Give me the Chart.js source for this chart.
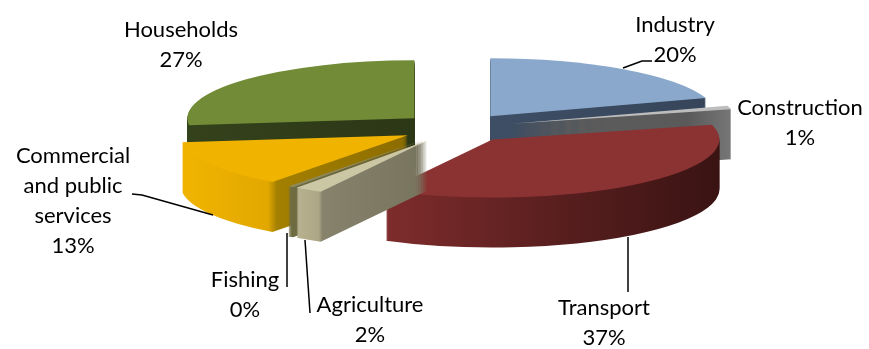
<!DOCTYPE html>
<html>
<head>
<meta charset="utf-8">
<style>
  html, body { margin: 0; padding: 0; background: #ffffff; }
  canvas { display: block; }
</style>
<script src="https://cdn.jsdelivr.net/npm/chart.js@4/dist/chart.umd.min.js"></script>
</head>
<body>
<canvas id="c" width="869" height="349"></canvas>
<script>
// ---- data ----
const categories = ['Industry', 'Construction', 'Transport', 'Agriculture', 'Fishing', 'Commercial and public services', 'Households'];
const shares = [20, 1, 37, 2, 0.4, 13, 27];
const labelLines = [['Industry'], ['Construction'], ['Transport'], ['Agriculture'], ['Fishing'], ['Commercial', 'and public', 'services'], ['Households']];

// ---- styles ----
const topColors = ['#8aa8cc', '#bdbdbd', '#8b3333', '#cbc6a3', '#8f8a5b', '#f0b400', '#718b36'];
const sideStops = [
  [[0, '#3e4e64'], [1, '#36455a']],
  [[0, '#5c5c5c'], [0.8, '#5a5a5a'], [1, '#767676']],
  [[0, '#7e2c2c'], [0.5, '#5a1f1f'], [1, '#3a1313']],
  [[0, '#b8b290'], [0.17, '#aca685'], [0.2, '#86826b'], [1, '#77745e']],
  [[0, '#6f6c42'], [1, '#5a5734']],
  [[0, '#f0b400'], [0.38, '#e2a800'], [0.42, '#a38000'], [1, '#8c6c00']],
  [[0, '#34421c'], [1, '#2c3716']]
];
const GEOM = { cx: 457, cy: 128, rx: 227, ry: 58, explode: 57, depth: 50 };
const labelPos = [
  { x: 675, y: 32 }, { x: 800, y: 115 }, { x: 604, y: 315 }, { x: 370, y: 312 },
  { x: 245, y: 287 }, { x: 73, y: 163 }, { x: 181, y: 37 }
];
const leaders = [
  [[623, 68], [642, 61], [652, 61]],
  [[628, 237], [628, 292]],
  [[305, 240], [310, 313]],
  [[287, 233], [287, 287]],
  [[132, 194], [142, 195], [213, 215]]
];
const LINE_H = 30;

const total = shares.reduce((a, b) => a + b, 0);

function sliceXRange(a) {
  // native x extent of a slice (relative to centre), in units of radius
  const xs = [0, Math.cos(a.startAngle), Math.cos(a.endAngle)];
  for (let k = -4; k <= 4; k++) {
    const ang = k * Math.PI;
    if (ang > a.startAngle && ang < a.endAngle) xs.push(Math.cos(ang));
  }
  return [Math.min(...xs), Math.max(...xs)];
}

const pie3d = {
  id: 'pie3d',
  beforeDatasetsDraw(chart) {
    const ctx = chart.ctx;
    const arcs = chart.getDatasetMeta(0).data;
    const dpr = chart.currentDevicePixelRatio || 1;
    const R = arcs[0].outerRadius, ox = arcs[0].x, oy = arcs[0].y;
    const sx = GEOM.rx / R, sy = GEOM.ry / R;
    const En = GEOM.explode / sx;
    const mid = a => (a.startAngle + a.endAngle) / 2;
    const order = arcs.map((a, i) => i).sort((i, j) => Math.sin(mid(arcs[i])) - Math.sin(mid(arcs[j])));
    for (const i of order) {
      const a = arcs[i];
      if (!a.circumference) continue;
      const m = mid(a);
      const e = GEOM.cx + sx * (-ox + En * Math.cos(m));
      const f0 = GEOM.cy + sy * (-oy + En * Math.sin(m));
      const [x0, x1] = sliceXRange(a);
      const grad = ctx.createLinearGradient(ox + x0 * R, 0, ox + x1 * R + 0.001, 0);
      sideStops[i].forEach(s => grad.addColorStop(s[0], s[1]));
      const side = Object.create(a);
      side.options = Object.assign({}, a.options, { backgroundColor: grad, borderWidth: 0 });
      for (let d = GEOM.depth; d >= 1; d--) {
        ctx.save();
        ctx.setTransform(dpr * sx, 0, 0, dpr * sy, dpr * e, dpr * (f0 + d));
        side.draw(ctx);
        ctx.restore();
      }
      ctx.save();
      ctx.setTransform(dpr * sx, 0, 0, dpr * sy, dpr * e, dpr * f0);
      a.draw(ctx);
      ctx.restore();
    }
    return false;
  },
  afterDraw(chart) {
    const ctx = chart.ctx;
    ctx.save();
    ctx.strokeStyle = '#000000';
    ctx.lineWidth = 1.5;
    leaders.forEach(pts => {
      ctx.beginPath();
      pts.forEach((p, k) => k ? ctx.lineTo(p[0], p[1]) : ctx.moveTo(p[0], p[1]));
      ctx.stroke();
    });
    ctx.fillStyle = '#000000';
    ctx.font = '22px Lato, "Open Sans", sans-serif';
    ctx.textAlign = 'center';
    ctx.textBaseline = 'alphabetic';
    categories.forEach((c, i) => {
      const lines = labelLines[i].concat([Math.round(shares[i] / total * 100) + '%']);
      lines.forEach((t, k) => ctx.fillText(t, labelPos[i].x, labelPos[i].y + k * LINE_H));
    });
    ctx.restore();
  }
};

new Chart(document.getElementById('c'), {
  type: 'pie',
  data: {
    labels: categories,
    datasets: [{ data: shares, backgroundColor: topColors, borderWidth: 0 }]
  },
  options: {
    responsive: false,
    animation: false,
    events: [],
    layout: { padding: 20 },
    plugins: { legend: { display: false }, tooltip: { enabled: false } }
  },
  plugins: [pie3d]
});
</script>
</body>
</html>
